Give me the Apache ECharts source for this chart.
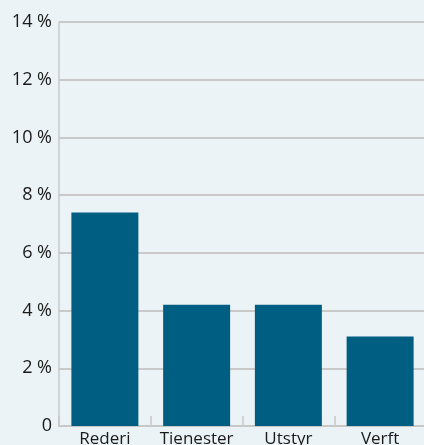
<!DOCTYPE html>
<html>
<head>
<meta charset="utf-8">
<script src="https://cdn.jsdelivr.net/npm/echarts@6/dist/echarts.min.js"></script>
<style>
  html, body { margin: 0; padding: 0; background: #ebf3f6; }
  #chart { width: 424px; height: 445px; }
</style>
</head>
<body>
<div id="chart"></div>
<script>
// Sector categories and their shares (percent)
const categories = ['Rederi', 'Tienester', 'Utstyr', 'Verft'];
const values = [7.4, 4.2, 4.2, 3.1];
// Value axis range and step (percent)
const yMin = 0, yMax = 14, yStep = 2;

const chart = echarts.init(document.getElementById('chart'), null, { renderer: 'canvas' });
chart.setOption({
  backgroundColor: '#ebf3f6',
  animation: false,
  grid: { left: 59, right: -2, top: 22, bottom: 19, containLabel: false, outerBoundsMode: 'none' },
  xAxis: {
    type: 'category',
    data: categories,
    axisLine: { show: true, lineStyle: { color: '#c8c8c8', width: 2 } },
    axisTick: { show: true, inside: true, length: 10, interval: 0, lineStyle: { color: '#c8c8c8', width: 1.5 } },
    axisLabel: {
      interval: 0, hideOverlap: false,
      color: '#1a1a1a', fontFamily: 'Open Sans', fontSize: 17, margin: 5
    }
  },
  yAxis: {
    type: 'value',
    min: yMin, max: yMax, interval: yStep,
    axisLine: { show: true, lineStyle: { color: '#c8c8c8', width: 1.5 } },
    axisTick: { show: false },
    splitLine: { show: true, lineStyle: { color: '#c9c9c9', width: 2 } },
    axisLabel: {
      color: '#1a1a1a', fontFamily: 'Open Sans', fontSize: 18, margin: 7,
      formatter: v => v === 0 ? '0' : v + ' %'
    }
  },
  series: [{
    type: 'bar',
    data: values,
    barCategoryGap: '27%',
    itemStyle: { color: '#005e82' }
  }]
});
</script>
</body>
</html>
